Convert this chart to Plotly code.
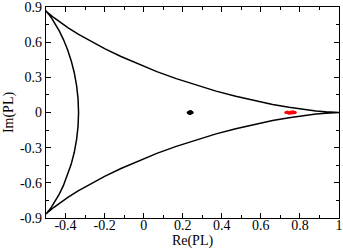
import plotly.graph_objects as go

# Boundary of the SU(3) Polyakov-loop domain (upper half then lower half)
re_upper = [1.0, 0.99240, 0.96977, 0.93263, 0.88181, 0.81847, 0.74402, 0.66011, 0.56858,
            0.47140, 0.37064, 0.26838, 0.16667, 0.06748, -0.02733, -0.11613, -0.19746,
            -0.27017, -0.33333, -0.38637, -0.42900, -0.46122, -0.48336, -0.49601, -0.5,
            -0.49639, -0.48641, -0.47140, -0.45281, -0.43209, -0.41068, -0.38994, -0.37112,
            -0.35527, -0.34331, -0.33586, -0.33333]
im_upper = [0.0, 0.00022, 0.00176, 0.00588, 0.01375, 0.02640, 0.04466, 0.06915, 0.10026,
            0.13807, 0.18243, 0.23287, 0.28868, 0.34886, 0.41220, 0.47728, 0.54253,
            0.60625, 0.66667, 0.72201, 0.77055, 0.81062, 0.84073, 0.85955, 0.86603,
            0.85933, 0.83897, 0.80474, 0.75680, 0.69561, 0.62201, 0.53709, 0.44228,
            0.33921, 0.22977, 0.11599, 0.0]
re_lower = [-0.33586, -0.34331, -0.35527, -0.37112, -0.38994, -0.41068, -0.43209, -0.45281,
            -0.47140, -0.48641, -0.49639, -0.5, -0.49601, -0.48336, -0.46122, -0.42900,
            -0.38637, -0.33333, -0.27017, -0.19746, -0.11613, -0.02733, 0.06748, 0.16667,
            0.26838, 0.37064, 0.47140, 0.56858, 0.66011, 0.74402, 0.81847, 0.88181,
            0.93263, 0.96977, 0.99240, 1.0]
im_lower = [-0.11599, -0.22977, -0.33921, -0.44228, -0.53709, -0.62201, -0.69561, -0.75680,
            -0.80474, -0.83897, -0.85933, -0.86603, -0.85955, -0.84073, -0.81062, -0.77055,
            -0.72201, -0.66667, -0.60625, -0.54253, -0.47728, -0.41220, -0.34886, -0.28868,
            -0.23287, -0.18243, -0.13807, -0.10026, -0.06915, -0.04466, -0.02640, -0.01375,
            -0.00588, -0.00176, -0.00022, 0.0]

# Measured Polyakov-loop samples
black_re = [0.228, 0.233, 0.238, 0.243, 0.248, 0.235, 0.241, 0.238, 0.238, 0.232, 0.244]
black_im = [0.0, 0.004, 0.0, -0.004, 0.0, -0.006, 0.006, 0.008, -0.008, -0.004, 0.004]
red_re = [0.728, 0.736, 0.744, 0.752, 0.760, 0.768, 0.776, 0.740, 0.756, 0.770, 0.748, 0.764]
red_im = [0.0, 0.004, -0.004, 0.005, -0.005, 0.004, 0.0, -0.002, 0.002, -0.003, -0.006, 0.006]

x_ticks = [-0.4, -0.2, 0, 0.2, 0.4, 0.6, 0.8, 1]
x_labels = ["-0.4", "-0.2", "0", "0.2", "0.4", "0.6", "0.8", "1"]
y_ticks = [-0.9, -0.6, -0.3, 0, 0.3, 0.6, 0.9]
y_labels = ["-0.9", "-0.6", "-0.3", "0", "0.3", "0.6", "0.9"]

font = dict(family="Liberation Serif", size=14, color="black")

fig = go.Figure()
fig.add_trace(go.Scatter(x=re_upper + re_lower, y=im_upper + im_lower, mode="lines",
                         line=dict(color="black", width=1.5), showlegend=False))
fig.add_trace(go.Scatter(x=black_re, y=black_im, mode="markers",
                         marker=dict(color="black", size=3), showlegend=False))
fig.add_trace(go.Scatter(x=red_re, y=red_im, mode="markers",
                         marker=dict(color="red", size=3), showlegend=False))

axis_common = dict(showgrid=False, zeroline=False, showline=True, linecolor="black",
                   linewidth=1.3, mirror="ticks", ticks="inside", ticklen=5,
                   tickcolor="black", tickwidth=1, tickfont=font,
                   automargin=False, ticklabeloverflow="allow")

fig.update_xaxes(range=[-0.5, 1], tickvals=x_ticks, ticktext=x_labels, ticklabelstandoff=-6,
                 minor=dict(dtick=0.1, tick0=0, ticks="inside", ticklen=3, tickcolor="black"),
                 title=dict(text="Re(PL)", font=font, standoff=0), **axis_common)
fig.update_yaxes(range=[-0.9, 0.9], tickvals=y_ticks, ticktext=y_labels,
                 minor=dict(dtick=0.15, tick0=0, ticks="inside", ticklen=3, tickcolor="black"),
                 title=dict(text="Im(PL)", font=font, standoff=2), **axis_common)

fig.update_layout(width=343, height=250, margin=dict(l=46, r=4, t=7, b=32),
                  plot_bgcolor="white", paper_bgcolor="white", font=font)

fig.write_html("out.html", config={"displayModeBar": False},
               post_script="document.body.style.margin='0';document.body.style.padding='0';")
